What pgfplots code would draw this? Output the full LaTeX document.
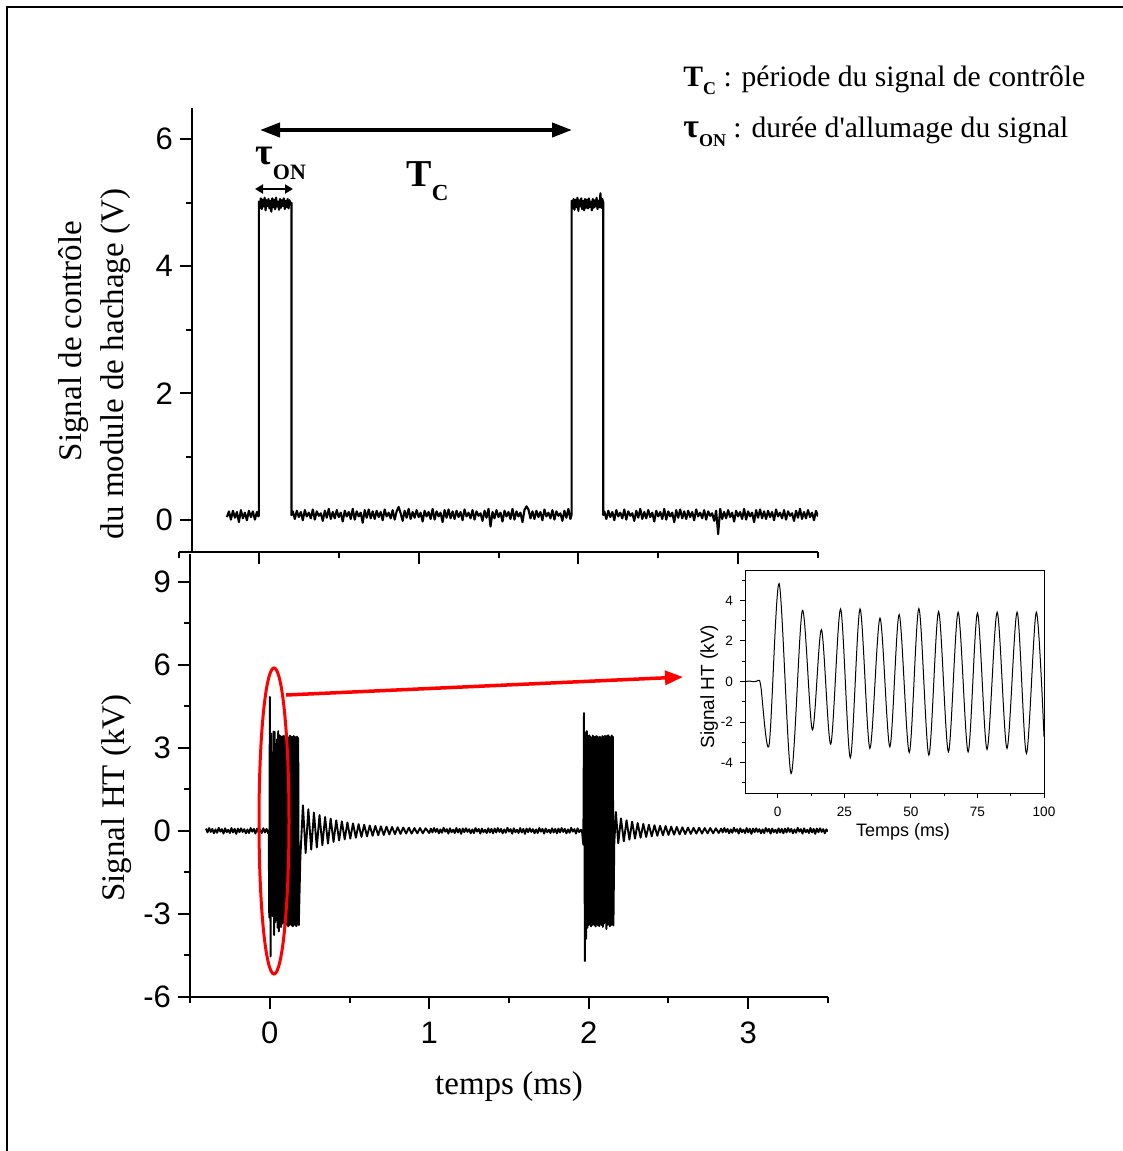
\documentclass[border=0pt]{standalone}
\usepackage{pgfplots}
\pgfplotsset{compat=1.18}
\usepackage{fontspec}
\usepackage{graphicx}
\setmainfont{Liberation Serif}
\newfontfamily\arial{Liberation Sans}
\usetikzlibrary{arrows.meta}

\pgfplotsset{
  mainax/.style={
    scale only axis,
    tick align=outside,
    major tick length=6pt, minor tick length=3pt,
    axis line style={line width=1pt},
    every tick/.style={line width=1pt, black},
    tick label style={font=\arial\fontsize{15.5}{15.5}\selectfont},
    /pgf/number format/assume math mode=true,
  },
}

\begin{document}
\begin{tikzpicture}
\path[use as bounding box] (0,0) rectangle (561.5pt,-575.5pt);

% ---------------- top: control signal ----------------
\begin{axis}[mainax,
  at={(89.5pt,-276pt)}, anchor=south west,
  width=319.5pt, height=222.25pt,
  xmin=-0.5, xmax=3.5, ymin=-0.5, ymax=6.5,
  axis x line*=bottom, axis y line=none,
  xtick={0,1,2,3}, minor xtick={-0.5,0.5,1.5,2.5,3.5}, xticklabels={},
  ytick=\empty,
]
\addplot[black, line width=1.05pt, line join=round] coordinates {
(-0.2000,0.05)(-0.1875,0.14)(-0.1750,0.01)(-0.1625,0.15)(-0.1500,0.04)(-0.1375,0.13)(-0.1250,-0.03)(-0.1125,0.16)(-0.1000,0.03)(-0.0875,0.12)
(-0.0750,0.00)(-0.0625,0.15)(-0.0500,0.05)(-0.0375,0.14)(-0.0250,0.01)(-0.0125,0.13)(-0.003,0.06)(0.000,0.08)
(0.000,5.02)(0.006,4.92)(0.012,5.07)(0.018,4.90)(0.024,5.05)(0.030,4.94)(0.036,5.08)(0.042,4.88)(0.048,5.04)(0.054,4.95)
(0.060,5.06)(0.066,4.91)(0.072,5.03)(0.078,4.86)(0.084,5.07)(0.090,4.93)(0.096,5.05)(0.102,4.90)(0.108,5.08)(0.114,4.94)
(0.120,5.02)(0.126,4.89)(0.132,5.06)(0.138,4.92)(0.144,5.04)(0.150,4.95)(0.156,5.07)(0.162,4.90)(0.168,5.03)(0.174,4.93)
(0.180,5.06)(0.186,4.91)(0.192,5.04)(0.198,4.97)(0.204,5.00)(0.204,0.08)
(0.2125,0.14)(0.2250,0.02)(0.2375,0.15)(0.2500,0.05)(0.2625,0.13)(0.2750,0.00)(0.2875,0.16)(0.3000,0.06)(0.3125,0.12)(0.3250,0.03)
(0.3375,0.17)(0.3500,0.01)(0.3625,0.14)(0.3750,0.07)(0.3875,0.11)(0.4000,-0.01)(0.4125,0.15)(0.4250,0.04)(0.4375,0.18)(0.4500,0.02)
(0.4625,0.13)(0.4750,0.03)(0.4875,0.16)(0.5000,0.05)(0.5125,0.12)(0.5250,-0.02)(0.5375,0.15)(0.5500,0.06)(0.5625,0.13)(0.5750,0.02)
(0.5875,0.18)(0.6000,0.01)(0.6125,0.14)(0.6250,0.06)(0.6375,0.12)(0.6500,-0.04)(0.6625,0.16)(0.6750,0.04)(0.6875,0.17)(0.7000,0.03)
(0.7125,0.14)(0.7250,0.02)(0.7375,0.15)(0.7500,0.05)(0.7625,0.13)(0.7750,0.00)(0.7875,0.17)(0.8000,0.06)(0.8125,0.12)(0.8250,0.03)
(0.8375,0.16)(0.8500,0.01)(0.8625,0.14)(0.8750,0.21)(0.8875,0.11)(0.9000,-0.01)(0.9125,0.15)(0.9250,0.04)(0.9375,0.18)(0.9500,0.02)
(0.9625,0.13)(0.9750,0.04)(0.9875,0.16)(1.0000,0.05)(1.0125,0.12)(1.0250,-0.02)(1.0375,0.15)(1.0500,0.06)(1.0625,0.13)(1.0750,0.02)
(1.0875,0.18)(1.1000,0.01)(1.1125,0.14)(1.1250,0.06)(1.1375,0.12)(1.1500,-0.03)(1.1625,0.16)(1.1750,0.04)(1.1875,0.17)(1.2000,0.03)
(1.2125,0.14)(1.2250,0.02)(1.2375,0.15)(1.2500,0.05)(1.2625,0.13)(1.2750,0.00)(1.2875,0.17)(1.3000,0.06)(1.3125,0.12)(1.3250,0.03)
(1.3375,0.16)(1.3500,0.01)(1.3625,0.14)(1.3750,0.07)(1.3875,0.11)(1.4000,-0.01)(1.4125,0.15)(1.4250,0.04)(1.4375,0.18)(1.4500,-0.10)
(1.4625,0.13)(1.4750,0.03)(1.4875,0.16)(1.5000,0.05)(1.5125,0.12)(1.5250,-0.02)(1.5375,0.15)(1.5500,0.06)(1.5625,0.13)(1.5750,0.02)
(1.5875,0.18)(1.6000,0.01)(1.6125,0.14)(1.6250,0.06)(1.6375,0.12)(1.6500,-0.03)(1.6625,0.16)(1.6750,0.22)(1.6875,0.17)(1.7000,0.03)
(1.7125,0.14)(1.7250,0.02)(1.7375,0.15)(1.7500,0.05)(1.7625,0.13)(1.7750,0.00)(1.7875,0.17)(1.8000,0.06)(1.8125,0.12)(1.8250,0.03)
(1.8375,0.16)(1.8500,0.01)(1.8625,0.14)(1.8750,0.07)(1.8875,0.11)(1.9000,-0.01)(1.9125,0.15)(1.9250,0.04)(1.9375,0.18)(1.9500,0.02)
(1.958,0.09)
(1.958,5.03)(1.964,4.91)(1.970,5.06)(1.976,4.89)(1.982,5.05)(1.988,4.93)(1.994,5.08)(2.000,4.87)(2.006,5.04)(2.012,4.94)
(2.018,5.07)(2.024,4.90)(2.030,5.03)(2.036,4.88)(2.042,5.06)(2.048,4.92)(2.054,5.05)(2.060,4.91)(2.066,5.07)(2.072,4.93)
(2.078,5.02)(2.084,4.88)(2.090,5.06)(2.096,4.92)(2.102,5.04)(2.108,4.94)(2.114,5.08)(2.120,4.90)(2.126,5.03)(2.132,4.93)
(2.138,5.15)(2.144,4.92)(2.150,5.06)(2.156,5.00)(2.156,0.08)
(2.1625,0.14)(2.1750,0.02)(2.1875,0.15)(2.2000,0.05)(2.2125,0.13)(2.2250,0.00)(2.2375,0.16)(2.2500,0.06)(2.2625,0.12)(2.2750,0.03)
(2.2875,0.17)(2.3000,0.01)(2.3125,0.14)(2.3250,0.07)(2.3375,0.11)(2.3500,-0.01)(2.3625,0.15)(2.3750,0.04)(2.3875,0.18)(2.4000,0.02)
(2.4125,0.13)(2.4250,0.03)(2.4375,0.16)(2.4500,0.05)(2.4625,0.12)(2.4750,-0.02)(2.4875,0.15)(2.5000,0.06)(2.5125,0.13)(2.5250,0.02)
(2.5375,0.18)(2.5500,0.01)(2.5625,0.14)(2.5750,0.06)(2.5875,0.12)(2.6000,-0.03)(2.6125,0.16)(2.6250,0.04)(2.6375,0.17)(2.6500,0.03)
(2.6625,0.14)(2.6750,0.02)(2.6875,0.15)(2.7000,0.05)(2.7125,0.13)(2.7250,0.00)(2.7375,0.17)(2.7500,0.06)(2.7625,0.12)(2.7750,0.03)
(2.7875,0.16)(2.8000,0.01)(2.8125,0.14)(2.8250,0.07)(2.8375,0.11)(2.8500,-0.01)(2.8625,0.15)(2.8750,-0.22)(2.8875,0.18)(2.9000,0.02)
(2.9125,0.13)(2.9250,0.03)(2.9375,0.16)(2.9500,0.05)(2.9625,0.12)(2.9750,-0.02)(2.9875,0.15)(3.0000,0.06)(3.0125,0.13)(3.0250,0.02)
(3.0375,0.18)(3.0500,0.01)(3.0625,0.14)(3.0750,0.06)(3.0875,0.12)(3.1000,-0.03)(3.1125,0.16)(3.1250,0.04)(3.1375,0.17)(3.1500,0.03)
(3.1625,0.14)(3.1750,0.02)(3.1875,0.15)(3.2000,0.05)(3.2125,0.13)(3.2250,0.00)(3.2375,0.17)(3.2500,0.06)(3.2625,0.12)(3.2750,0.03)
(3.2875,0.16)(3.3000,0.01)(3.3125,0.14)(3.3250,0.07)(3.3375,0.11)(3.3500,-0.01)(3.3625,0.15)(3.3750,0.04)(3.3875,0.18)(3.4000,0.02)
(3.4125,0.13)(3.4250,0.03)(3.4375,0.16)(3.4500,0.05)(3.4625,0.12)(3.4750,0.00)(3.4875,0.15)(3.5000,0.06)
};
\end{axis}

% top y axis (offset)
\begin{axis}[mainax,
  at={(96pt,-276pt)}, anchor=south west,
  width=313pt, height=222.25pt,
  xmin=0, xmax=1, ymin=-0.5, ymax=6.5,
  axis x line=none, axis y line*=left,
  xtick=\empty,
  ytick={0,2,4,6}, minor ytick={1,3,5},
]
\end{axis}

% ---------------- bottom: HT signal ----------------
\begin{axis}[mainax,
  at={(95pt,-498.5pt)}, anchor=south west,
  width=319pt, height=221.6pt,
  xmin=-0.5, xmax=3.5, ymin=-6, ymax=10,
  axis x line*=bottom, axis y line*=left,
  xtick={0,1,2,3}, minor xtick={-0.5,0.5,1.5,2.5,3.5},
  ytick={-6,-3,0,3,6,9}, minor ytick={-4.5,-1.5,1.5,4.5,7.5},
  xticklabel style={yshift=-3pt},
]
\addplot[black, line width=0.95pt, line join=round] coordinates {
(-0.40,0.08)(-0.39,-0.06)(-0.38,0.10)(-0.37,-0.04)(-0.36,0.07)(-0.35,-0.09)(-0.34,0.05)(-0.33,-0.07)(-0.32,0.11)(-0.31,-0.03)
(-0.30,0.06)(-0.29,-0.10)(-0.28,0.09)(-0.27,-0.05)(-0.26,0.04)(-0.25,-0.08)(-0.24,0.10)(-0.23,-0.06)(-0.22,0.07)(-0.21,-0.11)
(-0.20,0.08)(-0.19,-0.05)(-0.18,0.09)(-0.17,-0.04)(-0.16,0.06)(-0.15,-0.09)(-0.14,0.05)(-0.13,-0.08)(-0.12,0.10)(-0.11,-0.03)
(-0.10,0.07)(-0.09,-0.10)(-0.08,0.08)(-0.07,-0.05)(-0.06,0.04)(-0.05,-0.08)(-0.04,0.09)(-0.03,-0.06)(-0.02,0.07)(-0.01,-0.09)
(-0.0065,0.02)(-0.0033,-3.13)(0.0005,4.83)(0.0050,-4.54)(0.0093,3.51)(0.0130,-2.39)(0.0164,2.56)(0.0199,-3.09)(0.0236,3.58)(0.0273,-3.76)
(0.0309,3.58)(0.0346,-3.30)(0.0384,3.13)(0.0421,-3.22)(0.0456,3.30)(0.0494,-3.50)(0.0530,3.60)(0.0568,-3.63)(0.0604,3.45)(0.0641,-3.47)
(0.0678,3.42)(0.0715,-3.47)(0.0750,3.38)(0.0786,-3.35)(0.0824,3.42)(0.0861,-3.30)(0.0899,3.42)(0.0934,-3.55)(0.0971,3.42)(0.1008,-3.40)
(0.1045,3.45)(0.1082,-3.38)(0.1119,3.40)(0.1156,-3.45)(0.1193,3.35)(0.1230,-3.40)(0.1267,3.44)(0.1304,-3.36)(0.1341,3.40)(0.1378,-3.42)
(0.1415,3.38)(0.1452,-3.45)(0.1489,3.42)(0.1526,-3.36)(0.1563,3.40)(0.1600,-3.42)(0.1637,3.37)(0.1674,-3.44)(0.1711,3.40)(0.1748,-3.38)
(0.1785,3.35)(0.1822,-3.40)
(0.192,-0.95)(0.208,0.92)(0.225,-0.80)(0.242,0.78)(0.260,-0.68)(0.277,0.66)(0.295,-0.60)(0.312,0.57)(0.330,-0.52)(0.347,0.50)
(0.365,-0.46)(0.382,0.44)(0.400,-0.40)(0.417,0.38)(0.435,-0.35)(0.452,0.34)(0.470,-0.31)(0.487,0.30)(0.505,-0.28)(0.522,0.27)
(0.540,-0.25)(0.557,0.24)(0.575,-0.22)(0.592,0.22)(0.610,-0.20)(0.627,0.19)(0.645,-0.18)(0.662,0.18)(0.680,-0.16)(0.697,0.16)
(0.715,-0.15)(0.732,0.15)(0.750,-0.13)(0.767,0.14)(0.785,-0.12)(0.802,0.13)(0.820,-0.11)(0.837,0.12)(0.855,-0.10)(0.872,0.11)
(0.890,-0.10)(0.907,0.10)(0.925,-0.09)(0.942,0.10)(0.960,-0.09)(0.977,0.09)(1.000,-0.08)
(1.01,0.08)(1.02,-0.06)(1.03,0.10)(1.04,-0.04)(1.05,0.07)(1.06,-0.09)(1.07,0.05)(1.08,-0.07)(1.09,0.11)(1.10,-0.03)
(1.11,0.06)(1.12,-0.10)(1.13,0.09)(1.14,-0.05)(1.15,0.04)(1.16,-0.08)(1.17,0.10)(1.18,-0.06)(1.19,0.07)(1.20,-0.11)
(1.21,0.08)(1.22,-0.05)(1.23,0.09)(1.24,-0.04)(1.25,0.06)(1.26,-0.09)(1.27,0.05)(1.28,-0.08)(1.29,0.10)(1.30,-0.03)
(1.31,0.07)(1.32,-0.10)(1.33,0.08)(1.34,-0.05)(1.35,0.04)(1.36,-0.08)(1.37,0.09)(1.38,-0.06)(1.39,0.07)(1.40,-0.09)
(1.41,0.08)(1.42,-0.06)(1.43,0.10)(1.44,-0.04)(1.45,0.07)(1.46,-0.09)(1.47,0.05)(1.48,-0.07)(1.49,0.11)(1.50,-0.03)
(1.51,0.06)(1.52,-0.10)(1.53,0.09)(1.54,-0.05)(1.55,0.04)(1.56,-0.08)(1.57,0.10)(1.58,-0.06)(1.59,0.07)(1.60,-0.11)
(1.61,0.08)(1.62,-0.05)(1.63,0.09)(1.64,-0.04)(1.65,0.06)(1.66,-0.09)(1.67,0.05)(1.68,-0.08)(1.69,0.10)(1.70,-0.03)
(1.71,0.07)(1.72,-0.10)(1.73,0.08)(1.74,-0.05)(1.75,0.04)(1.76,-0.08)(1.77,0.09)(1.78,-0.06)(1.79,0.07)(1.80,-0.09)
(1.81,0.08)(1.82,-0.06)(1.83,0.10)(1.84,-0.04)(1.85,0.07)(1.86,-0.09)(1.87,0.05)(1.88,-0.07)(1.89,0.11)(1.90,-0.03)
(1.91,0.06)(1.92,-0.10)(1.93,0.09)(1.94,-0.05)(1.95,0.04)(1.958,-0.03)(1.966,-0.50)
(1.9700,4.25)(1.9760,-4.70)(1.9800,3.55)(1.9840,-3.90)(1.9880,3.60)(1.9920,-3.50)(1.9957,3.42)(1.9994,-3.40)(2.0031,3.45)(2.0068,-3.38)
(2.0105,3.40)(2.0142,-3.45)(2.0179,3.35)(2.0216,-3.40)(2.0253,3.44)(2.0290,-3.36)(2.0327,3.40)(2.0364,-3.42)(2.0401,3.38)(2.0438,-3.45)
(2.0475,3.42)(2.0512,-3.36)(2.0549,3.40)(2.0586,-3.42)(2.0623,3.37)(2.0660,-3.44)(2.0697,3.40)(2.0734,-3.38)(2.0771,3.35)(2.0808,-3.40)
(2.0845,3.42)(2.0882,-3.47)(2.0919,3.38)(2.0956,-3.35)(2.0993,3.42)(2.1030,-3.30)(2.1067,3.42)(2.1104,-3.55)(2.1141,3.42)(2.1178,-3.40)
(2.1215,3.45)(2.1252,-3.38)(2.1289,3.40)(2.1326,-3.45)(2.1363,3.35)(2.1400,-3.40)(2.1437,3.44)(2.1474,-3.36)(2.1511,3.40)(2.1548,-3.42)
(2.160,-0.48)(2.170,0.68)(2.185,-0.45)(2.202,0.45)(2.220,-0.38)(2.237,0.38)(2.255,-0.32)(2.272,0.33)(2.290,-0.28)(2.307,0.28)
(2.325,-0.25)(2.342,0.25)(2.360,-0.22)(2.377,0.22)(2.395,-0.20)(2.412,0.20)(2.430,-0.18)(2.447,0.18)(2.465,-0.16)(2.482,0.17)
(2.500,-0.15)(2.517,0.15)(2.535,-0.14)(2.552,0.14)(2.570,-0.13)(2.587,0.13)(2.605,-0.12)(2.622,0.12)(2.640,-0.11)(2.657,0.11)
(2.675,-0.10)(2.692,0.11)(2.710,-0.10)(2.727,0.10)(2.745,-0.09)(2.762,0.10)(2.780,-0.09)(2.797,0.09)(2.815,-0.08)
(2.83,0.08)(2.84,-0.06)(2.85,0.10)(2.86,-0.04)(2.87,0.07)(2.88,-0.09)(2.89,0.05)(2.90,-0.07)(2.91,0.11)(2.92,-0.03)
(2.93,0.06)(2.94,-0.10)(2.95,0.09)(2.96,-0.05)(2.97,0.04)(2.98,-0.08)(2.99,0.10)(3.00,-0.06)(3.01,0.07)(3.02,-0.11)
(3.03,0.08)(3.04,-0.05)(3.05,0.09)(3.06,-0.04)(3.07,0.06)(3.08,-0.09)(3.09,0.05)(3.10,-0.08)(3.11,0.10)(3.12,-0.03)
(3.13,0.07)(3.14,-0.10)(3.15,0.08)(3.16,-0.05)(3.17,0.04)(3.18,-0.08)(3.19,0.09)(3.20,-0.06)(3.21,0.07)(3.22,-0.09)
(3.23,0.08)(3.24,-0.06)(3.25,0.10)(3.26,-0.04)(3.27,0.07)(3.28,-0.09)(3.29,0.05)(3.30,-0.07)(3.31,0.11)(3.32,-0.03)
(3.33,0.06)(3.34,-0.10)(3.35,0.09)(3.36,-0.05)(3.37,0.04)(3.38,-0.08)(3.39,0.10)(3.40,-0.06)(3.41,0.07)(3.42,-0.11)
(3.43,0.08)(3.44,-0.05)(3.45,0.09)(3.46,-0.04)(3.47,0.06)(3.48,-0.09)(3.49,0.05)(3.50,-0.02)
};
\end{axis}

% ---------------- inset ----------------
\begin{axis}[
  scale only axis,
  at={(372.5pt,-396.5pt)}, anchor=south west,
  width=149.5pt, height=111.5pt,
  xmin=-12.3, xmax=100, ymin=-5.5, ymax=5.5,
  xtick={0,25,50,75,100}, minor xtick={12.5,37.5,62.5,87.5},
  ytick={-4,-2,0,2,4}, minor ytick={-5,-3,-1,1,3,5},
  xtick pos=left, ytick pos=left,
  tick align=outside,
  major tick length=2.5pt, minor tick length=1.5pt,
  axis line style={line width=0.5pt},
  every tick/.style={line width=0.5pt, black},
  tick label style={font=\arial\fontsize{6.8}{6.8}\selectfont},
  /pgf/number format/assume math mode=true,
  xticklabel style={yshift=-1pt},
]
\addplot[black, line width=0.5pt, smooth] coordinates {
(-12.3,0.0)(-10.5,0.02)(-9,-0.01)(-7.8,0.02)(-7.0,0.06)(-6.3,-0.3)
(-3.25,-3.13)(0.5,4.83)(5.0,-4.54)(9.25,3.51)(13.0,-2.39)(16.4,2.56)(19.9,-3.09)(23.6,3.58)(27.25,-3.76)
(30.9,3.58)(34.6,-3.30)(38.4,3.13)(42.1,-3.22)(45.6,3.30)(49.4,-3.50)(53.0,3.60)(56.75,-3.63)(60.4,3.45)
(64.1,-3.47)(67.75,3.42)(71.5,-3.47)(75.0,3.38)(78.6,-3.35)(82.4,3.42)(86.1,-3.30)(89.9,3.42)(93.4,-3.55)
(97.1,3.42)(100,-2.72)
};
\end{axis}

% ---------------- annotations & labels (pixel coordinates) ----------------
\begin{scope}[x=0.5pt,y=-0.5pt]
\draw[line width=1pt] (6.5,1151) -- (6.5,6.5) -- (1123,6.5);

\draw[line width=2pt, {Triangle[length=10pt,width=7pt]}-{Triangle[length=10pt,width=7pt]}] (260,130) -- (572,130);
\draw[line width=1pt, {Triangle[length=4pt,width=4.5pt]}-{Triangle[length=4pt,width=4.5pt]}] (255,189) -- (293,189);

\node[anchor=base west, inner sep=0, font=\bfseries\fontsize{19}{19}\selectfont] at (255,164)
  {τ\raisebox{-7.5pt}{\fontsize{11}{11}\selectfont ON}};
\node[anchor=base west, inner sep=0, font=\bfseries\fontsize{19}{19}\selectfont] at (406,186)
  {T\raisebox{-7pt}{\fontsize{11.5}{11.5}\selectfont C}};

\node[anchor=base west, inner sep=0, font=\fontsize{14.8}{14.8}\selectfont] at (683,86)
  {\textbf{T}\raisebox{-4pt}{\fontsize{9}{9}\selectfont\bfseries C} : période du signal de contrôle};
\node[anchor=base west, inner sep=0, font=\fontsize{14.8}{14.8}\selectfont] at (683,137)
  {{\fontsize{17}{17}\selectfont\bfseries τ}\raisebox{-4.5pt}{\fontsize{9}{9}\selectfont\bfseries ON} : durée d\textquotesingle allumage du signal};

\draw[red, line width=1.5pt] (274,821) ellipse [x radius=15, y radius=153];
\draw[red, line width=1.75pt, -{Triangle[length=9pt,width=7pt]}] (286,695) -- (683,677);

\node[anchor=base, inner sep=0, font=\fontsize{16.5}{16.5}\selectfont] at (509,1094) {temps (ms)};
\node[anchor=base, rotate=90, inner sep=0, font=\fontsize{16.5}{16.5}\selectfont] at (124,798) {Signal HT (kV)};
\node[anchor=base, rotate=90, inner sep=0, font=\fontsize{16.5}{16.5}\selectfont] at (81,341) {Signal de contrôle};
\node[anchor=base, rotate=90, inner sep=0, font=\fontsize{16.5}{16.5}\selectfont] at (123,364) {du module de hachage (V)};

\node[anchor=base, rotate=90, inner sep=0, font=\arial\fontsize{9.5}{9.5}\selectfont] at (714,686.5) {Signal HT (kV)};
\node[anchor=base, inner sep=0, font=\arial\fontsize{9}{9}\selectfont] at (903,836) {Temps (ms)};
\end{scope}
\end{tikzpicture}
\end{document}
